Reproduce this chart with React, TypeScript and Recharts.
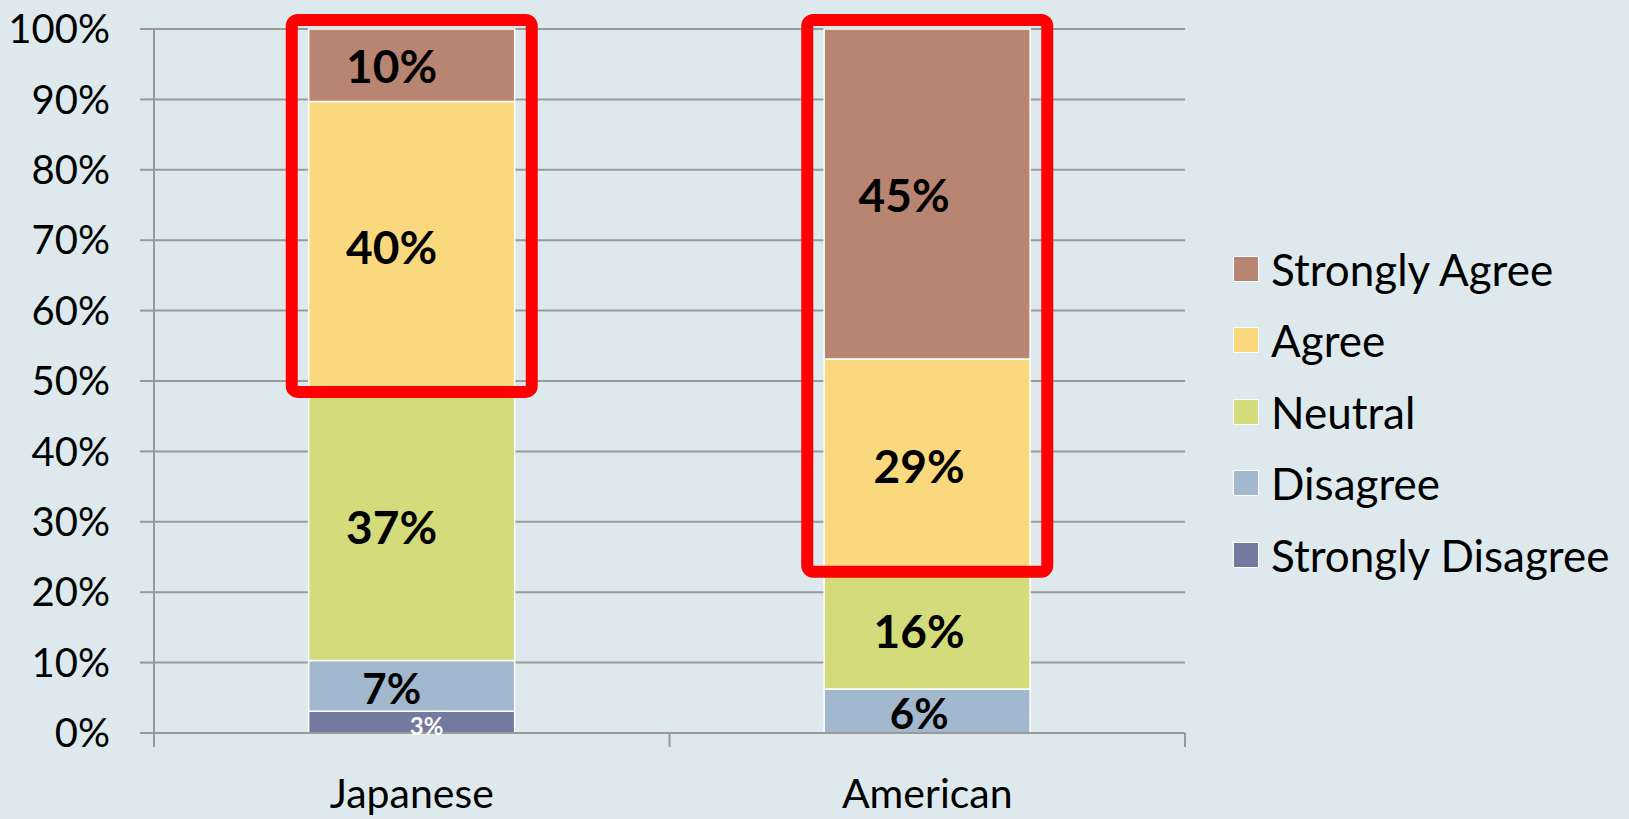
import React from "react";
import { BarChart, Bar, XAxis, YAxis, CartesianGrid, LabelList, ReferenceArea } from "recharts";

const categories = ["Japanese", "American"];
const stronglyDisagree = [3, 0];
const disagree = [7, 6];
const neutral = [37, 16];
const agree = [40, 29];
const stronglyAgree = [10, 45];
const yTicks = [0, 0.1, 0.2, 0.3, 0.4, 0.5, 0.6, 0.7, 0.8, 0.9, 1];
// bottom axis runs 0..1 (expand offset forces it): category edges at 0, .5, 1, names at .25, .75
const xTicks = [0, 0.25, 0.5, 0.75, 1];

const SERIES = [
  { key: "stronglyDisagree", name: "Strongly Disagree", values: stronglyDisagree, color: "#737aa0", text: "#fff", size: 24 },
  { key: "disagree", name: "Disagree", values: disagree, color: "#a2b8cf", text: "#000", size: 42 },
  { key: "neutral", name: "Neutral", values: neutral, color: "#d4db7b", text: "#000", size: 46 },
  { key: "agree", name: "Agree", values: agree, color: "#fad87d", text: "#000", size: 46 },
  { key: "stronglyAgree", name: "Strongly Agree", values: stronglyAgree, color: "#b88572", text: "#000", size: 46 },
];

const data = categories.map((c, i) => {
  const row: any = { name: c };
  SERIES.forEach((s) => (row[s.key] = s.values[i]));
  return row;
});

const totals = categories.map((_, i) => SERIES.reduce((a, s) => a + s.values[i], 0));
const highlightFrom = categories.map((_, i) => 1 - (agree[i] + stronglyAgree[i]) / totals[i]);

// labels sit a little left of the bar centre, like in the slide
const LABEL_DX: Record<string, number> = { Japanese: -20, American: -8 };

const FONT = "Lato, 'Open Sans', sans-serif";
const GRID = "#9a9a9a";

const makeLabel = (s: (typeof SERIES)[number]) => (props: any) => {
  const { x, y, width, height, index } = props;
  const v = s.values[index];
  if (!v) return null;
  let dx = LABEL_DX[categories[index]];
  let dy = 0;
  if (s.key === "stronglyDisagree") { dx = 15; dy = 3; }
  if (s.key === "disagree") dy = 2;
  if (s.key === "stronglyAgree" && categories[index] === "American") dx = -23;
  return (
    <text
      x={x + width / 2 + dx}
      y={y + height / 2 + dy}
      textAnchor="middle"
      dominantBaseline="central"
      fill={s.text}
      fontFamily={FONT}
      fontWeight={700}
      fontSize={s.size}
    >
      {v}%
    </text>
  );
};

const BottomTick = (props: any) => {
  const { x, y, payload } = props;
  const k = Math.round(payload.value * 4);
  if (k % 2 === 0) {
    return <line x1={x} x2={x} y1={y} y2={y + 14} stroke={GRID} strokeWidth={2} />;
  }
  return (
    <text x={x} y={y + 75} textAnchor="middle" fill="#000" fontFamily={FONT} fontSize={41}>
      {categories[(k - 1) / 2]}
    </text>
  );
};

const RedBox = (props: any) => {
  const { x, y, width, height } = props;
  const cx = x + width / 2;
  return (
    <rect x={cx - 120} y={y - 9} width={240} height={height + 9} rx={6} fill="none" stroke="#ff0000" strokeWidth={12} />
  );
};

export default function App() {
  return (
    <div style={{ position: "fixed", left: 0, top: 0, width: 1629, height: 819, background: "#dee9ed" }}>
      <BarChart
        width={1629}
        height={819}
        data={data}
        stackOffset="expand"
        barCategoryGap="30%"
        margin={{ top: 29, right: 444, bottom: 0, left: 0 }}
      >
        <CartesianGrid horizontal vertical={false} stroke={GRID} strokeWidth={2} />
        <XAxis dataKey="name" hide height={0} />
        <XAxis
          xAxisId="n"
          type="number"
          domain={[0, 1]}
          ticks={xTicks}
          interval={0}
          height={86}
          tickSize={0}
          tickMargin={0}
          tickLine={false}
          axisLine={{ stroke: GRID, strokeWidth: 2 }}
          tick={<BottomTick />}
        />
        <YAxis
          type="number"
          domain={[0, 1]}
          ticks={yTicks}
          interval={0}
          width={154}
          tickSize={14}
          tickMargin={30}
          tickLine={{ stroke: GRID, strokeWidth: 2 }}
          axisLine={{ stroke: GRID, strokeWidth: 2 }}
          tickFormatter={(v) => `${Math.round(v * 100)}%`}
          tick={{ fill: "#000", fontFamily: FONT, fontSize: 40 }}
        />
        {SERIES.map((s) => (
          <Bar key={s.key} dataKey={s.key} name={s.name} stackId="a" fill={s.color} stroke="#fff" strokeWidth={1.5} isAnimationActive={false}>
            <LabelList content={makeLabel(s)} />
          </Bar>
        ))}
        {categories.map((c, i) => (
          <ReferenceArea key={c} x1={c} x2={c} y1={highlightFrom[i]} y2={1} shape={<RedBox />} ifOverflow="visible" zIndex={2000} />
        ))}
      </BarChart>
      <div style={{ position: "absolute", left: 1233, top: 233, fontFamily: FONT, fontSize: 44, color: "#000" }}>
        {[...SERIES].reverse().map((s) => (
          <div key={s.key} style={{ height: 71.5, display: "flex", alignItems: "center" }}>
            <span style={{ width: 24, height: 24, background: s.color, border: "1.5px solid #fff", marginRight: 12, flexShrink: 0 }} />
            <span>{s.name}</span>
          </div>
        ))}
      </div>
    </div>
  );
}
